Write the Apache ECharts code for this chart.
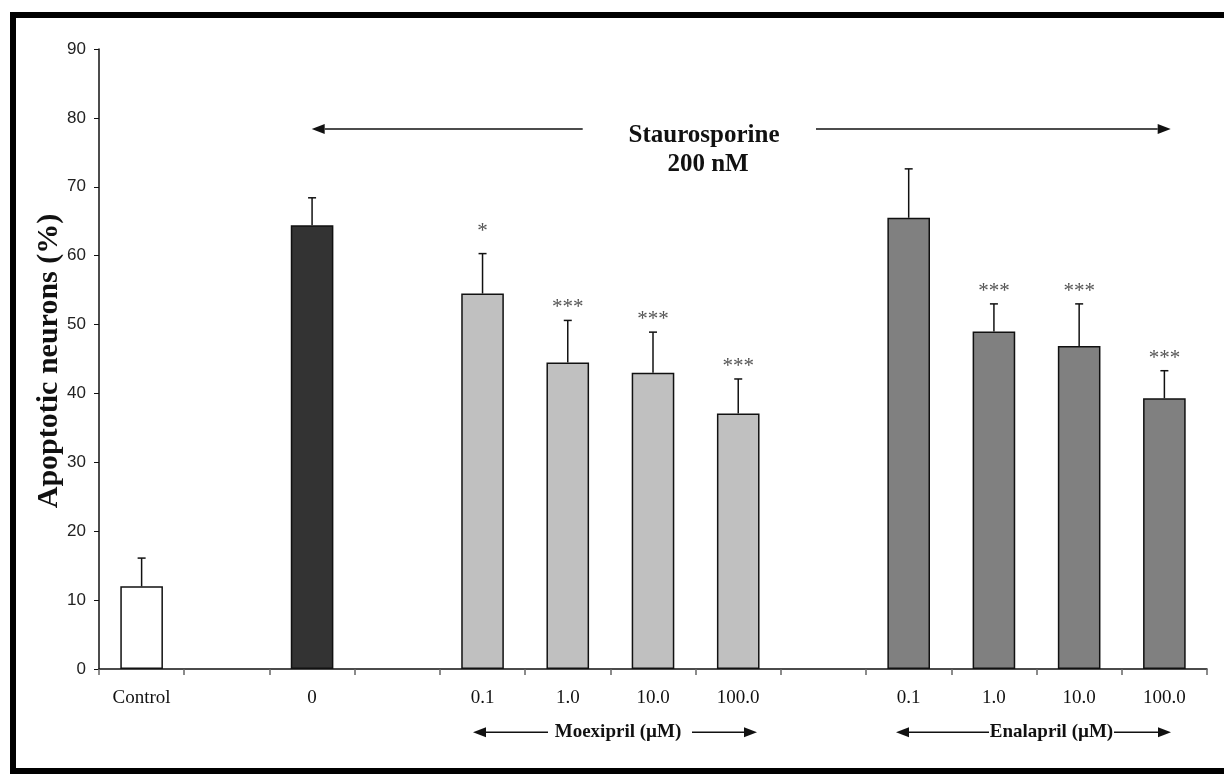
<!DOCTYPE html>
<html>
<head>
<meta charset="utf-8">
<title>Apoptotic neurons</title>
<script src="https://cdn.jsdelivr.net/npm/echarts@6/dist/echarts.min.js"></script>
<style>
  html, body { margin: 0; padding: 0; background: #fff; }
  #chart { width: 1224px; height: 774px; }
</style>
</head>
<body>
<div id="chart"></div>
<script>
// Category slots along the x axis (empty strings are spacer slots)
const categories = ['Control', '', '0', '', '0.1', '1.0', '10.0', '100.0', '', '0.1', '1.0', '10.0', '100.0'];
// Treatment group of each slot
const groups = ['control', null, 'sts', null, 'moex', 'moex', 'moex', 'moex', null, 'enal', 'enal', 'enal', 'enal'];
// Mean percentage of apoptotic neurons
const meanValues = [12.0, null, 64.4, null, 54.5, 44.5, 43.0, 37.1, null, 65.5, 49.0, 46.9, 39.3];
// Upper error (SEM)
const errorValues = [4.1, null, 4.0, null, 5.8, 6.1, 5.9, 5.0, null, 7.1, 4.0, 6.1, 4.0];
// Significance markers
const significance = ['', '', '', '', '*', '***', '***', '***', '', '', '***', '***', '***'];
// Y axis ticks
const yTicks = { min: 0, max: 90, interval: 10 };

const SERIF = '"Liberation Serif", "Times New Roman", Times, serif';
const SANS = '"Liberation Sans", Arial, Helvetica, sans-serif';
const groupFill = { control: '#ffffff', sts: '#333333', moex: '#c0c0c0', enal: '#808080' };

const barData = meanValues.map(function (v, i) {
  if (v == null) return '-';
  return { value: v, itemStyle: { color: groupFill[groups[i]] } };
});

const errData = [];
const errSig = [];
meanValues.forEach(function (v, i) {
  if (v == null) return;
  errData.push([i, v, errorValues[i]]);
  errSig.push(significance[i]);
});

function renderError(params, api) {
  const idx = api.value(0);
  const m = api.value(1);
  const e = api.value(2);
  const p0 = api.coord([idx, m]);
  const p1 = api.coord([idx, m + e]);
  const cap = 4;
  const children = [
    { type: 'line', shape: { x1: p0[0], y1: p0[1], x2: p1[0], y2: p1[1] },
      style: { stroke: '#111', lineWidth: 1.5 } },
    { type: 'line', shape: { x1: p1[0] - cap, y1: p1[1], x2: p1[0] + cap, y2: p1[1] },
      style: { stroke: '#111', lineWidth: 1.5 } }
  ];
  const sig = errSig[params.dataIndex];
  if (sig) {
    // a lone asterisk sits a little higher above its whisker
    const lift = sig.length === 1 ? 12 : 2;
    children.push({
      type: 'text',
      style: {
        text: sig, x: p1[0], y: p1[1] - lift,
        fill: '#555', fontSize: 21, fontFamily: SERIF,
        align: 'center', verticalAlign: 'bottom'
      }
    });
  }
  return { type: 'group', children: children };
}

// Horizontal arrow with a filled head at xTip
function arrow(xTail, xTip, y) {
  const dir = xTip > xTail ? 1 : -1;
  const headLen = 13, headHalf = 5;
  return [
    { type: 'line', z: 10,
      shape: { x1: xTail, y1: y, x2: xTip - dir * headLen, y2: y },
      style: { stroke: '#111', lineWidth: 1.5 } },
    { type: 'polygon', z: 10,
      shape: { points: [[xTip, y], [xTip - dir * headLen, y - headHalf], [xTip - dir * headLen, y + headHalf]] },
      style: { fill: '#111' } }
  ];
}

function label(text, x, y, size, bold, rotation) {
  return {
    type: 'text', z: 10, x: x, y: y, rotation: rotation || 0,
    style: {
      text: text, fill: '#111', fontSize: size, fontFamily: SERIF,
      fontWeight: bold ? 'bold' : 'normal', align: 'center', verticalAlign: 'middle'
    }
  };
}

const graphics = [].concat(
  [{ type: 'rect', z: 20, shape: { x: 13, y: 15, width: 1300, height: 756 },
     style: { fill: 'none', stroke: '#000', lineWidth: 6 } }],
  arrow(582.7, 311.7, 129),
  arrow(816, 1170.7, 129),
  arrow(548, 473, 732.3),
  arrow(692, 757, 732.3),
  arrow(989, 896, 732.3),
  arrow(1114, 1171, 732.3),
  [
    label('Staurosporine', 704, 136, 25, true),
    label('200 nM', 708, 165, 25, true),
    label('Moexipril (µM)', 618, 732.5, 19, true),
    label('Enalapril (µM)', 1051.5, 732.5, 19, true),
    label('Apoptotic neurons (%)', 49, 361, 30, true, Math.PI / 2)
  ]
);

const chart = echarts.init(document.getElementById('chart'), null, { renderer: 'canvas' });
chart.setOption({
  animation: false,
  backgroundColor: '#ffffff',
  grid: { left: 99, right: 17, top: 49, bottom: 105, containLabel: false },
  xAxis: {
    type: 'category',
    data: categories,
    boundaryGap: true,
    axisLine: { show: true, lineStyle: { color: '#111', width: 1.5 } },
    axisTick: { show: true, alignWithLabel: false, interval: 0, inside: false, length: 6,
                lineStyle: { color: '#666', width: 1.5 } },
    axisLabel: { interval: 0, margin: 20, color: '#111', fontSize: 19, fontFamily: SERIF },
    splitLine: { show: false }
  },
  yAxis: {
    type: 'value',
    min: yTicks.min, max: yTicks.max, interval: yTicks.interval,
    axisLine: { show: true, lineStyle: { color: '#111', width: 1.5 } },
    axisTick: { show: true, inside: false, length: 5, lineStyle: { color: '#111', width: 1 } },
    axisLabel: { margin: 13, color: '#222', fontSize: 17, fontFamily: SANS },
    splitLine: { show: false }
  },
  series: [
    {
      type: 'bar',
      data: barData,
      barWidth: '50%',
      itemStyle: { borderColor: '#111', borderWidth: 1.5 },
      z: 2
    },
    {
      type: 'custom',
      data: errData,
      renderItem: renderError,
      encode: { x: 0, y: 1 },
      z: 3,
      silent: true
    }
  ],
  graphic: graphics
});
</script>
</body>
</html>
